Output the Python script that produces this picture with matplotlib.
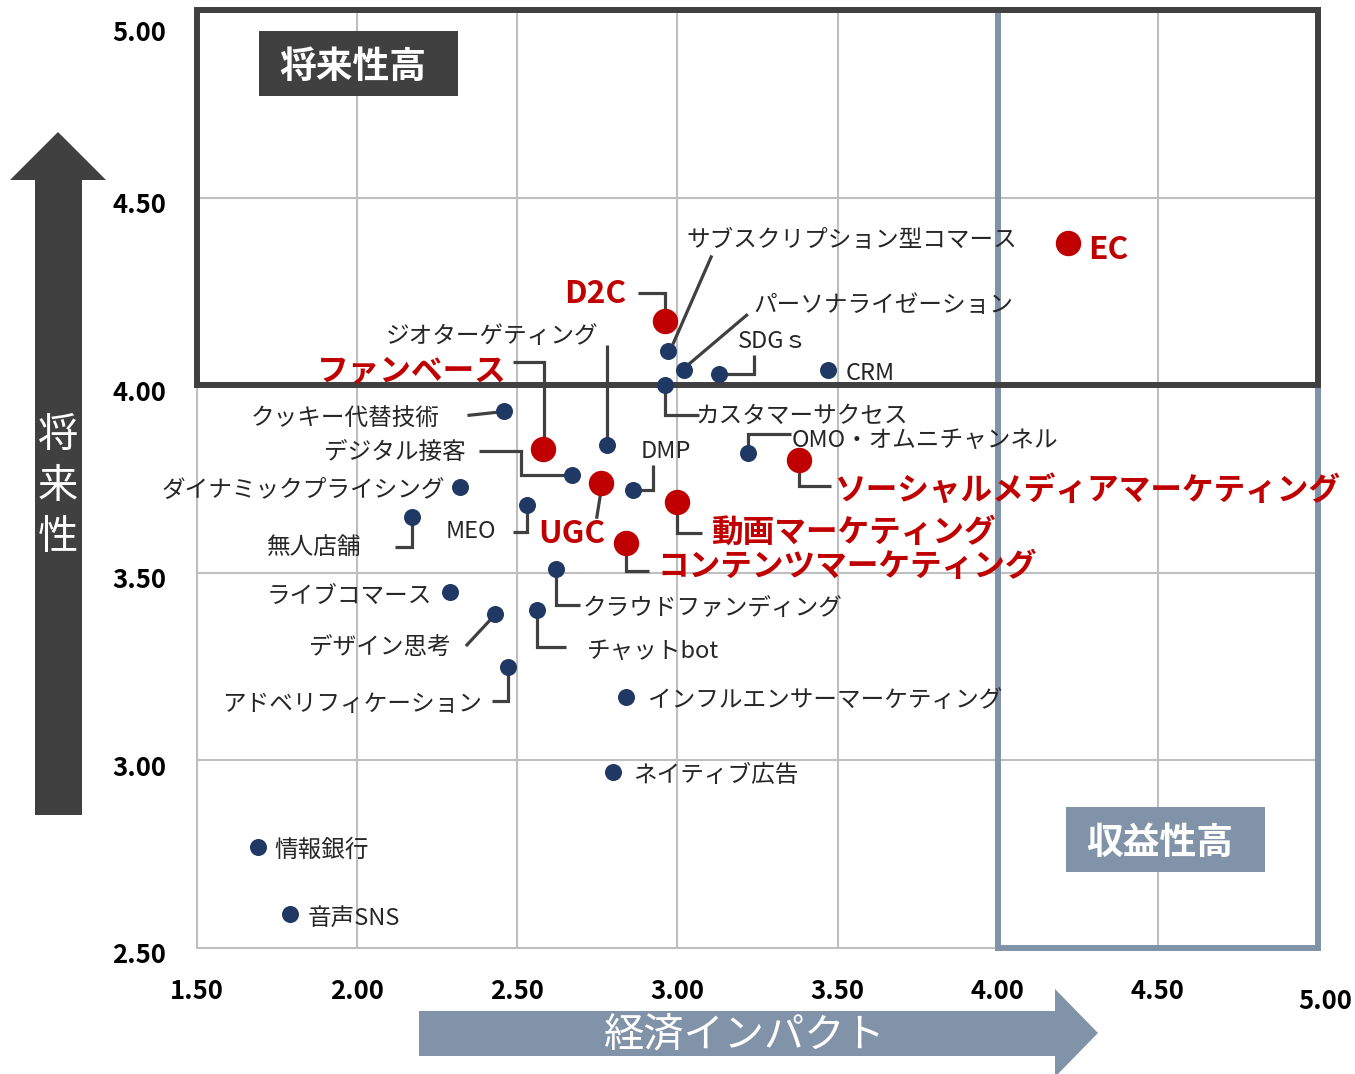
import matplotlib
matplotlib.use('Agg')
import matplotlib.pyplot as plt
import matplotlib.transforms as mtransforms
from matplotlib.patches import Rectangle, Polygon
from matplotlib.lines import Line2D

plt.rcParams['font.family'] = ['Noto Sans CJK JP', 'DejaVu Sans']

# ---------------- data ----------------
names = ['EC', 'D2C', 'サブスクリプション型コマース', 'パーソナライゼーション', 'SDGｓ', 'CRM',
         'カスタマーサクセス', 'ファンベース', 'ジオターゲティング', 'クッキー代替技術', 'デジタル接客',
         'UGC', 'DMP', '動画マーケティング', 'コンテンツマーケティング',
         'ソーシャルメディアマーケティング', 'OMO・オムニチャンネル', 'ダイナミックプライシング',
         'MEO', '無人店舗', 'クラウドファンディング', 'ライブコマース', 'チャットbot', 'デザイン思考',
         'アドベリフィケーション', 'インフルエンサーマーケティング', 'ネイティブ広告', '情報銀行', '音声SNS']
econ_impact = [4.22, 2.96, 2.97, 3.02, 3.13, 3.47, 2.96, 2.58, 2.78, 2.46, 2.67, 2.76, 2.86, 3.00,
               2.84, 3.38, 3.22, 2.32, 2.53, 2.17, 2.62, 2.29, 2.56, 2.43, 2.47, 2.84, 2.80, 1.69, 1.79]
future_score = [4.38, 4.17, 4.09, 4.04, 4.03, 4.04, 4.00, 3.83, 3.84, 3.93, 3.76, 3.74, 3.72, 3.69,
                3.58, 3.80, 3.82, 3.73, 3.68, 3.65, 3.51, 3.45, 3.40, 3.39, 3.25, 3.17, 2.97, 2.77, 2.59]
focus = ['EC', 'D2C', 'ファンベース', 'UGC', '動画マーケティング', 'コンテンツマーケティング',
         'ソーシャルメディアマーケティング']

x_ticks = [1.5, 2.0, 2.5, 3.0, 3.5, 4.0, 4.5, 5.0]
x_tick_labels = ['1.50', '2.00', '2.50', '3.00', '3.50', '4.00', '4.50', '5.00']
y_ticks = [2.5, 3.0, 3.5, 4.0, 4.5, 5.0]
y_tick_labels = ['2.50', '3.00', '3.50', '4.00', '4.50', '5.00']

x_title = '経済インパクト'
y_title = '将来性'
quad_top = '将来性高'
quad_right = '収益性高'

# ---------------- layout (pixel offsets, y downward) ----------------
# name: (ha, dx, dy, leader vertices)
layout = {
    'EC': ('left', 20, 3, None),
    'D2C': ('right', -38, -31, [(-27, -28), (0, -28), (0, -10)]),
    'サブスクリプション型コマース': ('left', 19, -115, [(5, -7), (44, -96)]),
    'パーソナライゼーション': ('left', 70, -69, [(5, -6), (64, -56)]),
    'SDGｓ': ('left', 19, -36, [(0, 0), (35, 0), (35, -19)]),
    'CRM': ('left', 18, -1, None),
    'カスタマーサクセス': ('left', 31, 27, [(0, 0), (0, 30), (34, 30)]),
    'ファンベース': ('right', -36, -81, [(-30, -87), (1, -87), (1, 0)]),
    'ジオターゲティング': ('right', -9, -113, [(0, -100), (0, 0)]),
    'クッキー代替技術': ('right', -65, 3, [(-37, 4), (0, 0)]),
    'デジタル接客': ('right', -106, -27, [(-93, -24), (-51, -24), (-51, 0), (0, 0)]),
    'ダイナミックプライシング': ('right', -15, 0, None),
    '無人店舗': ('right', -50, 27, [(0, 0), (0, 30), (-17, 30)]),
    'MEO': ('right', -31, 22, [(0, 0), (0, 27), (-14, 27)]),
    'UGC': ('left', -62, 47, [(0, 11), (-4, 36)]),
    'DMP': ('left', 8, -43, [(0, 0), (20, 0), (20, -25)]),
    'OMO・オムニチャンネル': ('left', 44, -16, [(0, 0), (0, -19), (43, -19)]),
    'ソーシャルメディアマーケティング': ('left', 36, 26, [(0, 0), (0, 26), (32, 26)]),
    '動画マーケティング': ('left', 34, 27, [(0, 0), (0, 31), (25, 31)]),
    'コンテンツマーケティング': ('left', 31, 20, [(0, 0), (0, 28), (23, 28)]),
    'クラウドファンディング': ('left', 27, 35, [(0, 0), (0, 36), (24, 36)]),
    'ライブコマース': ('right', -18, 1, None),
    'チャットbot': ('left', 50, 37, [(0, 0), (0, 37), (29, 37)]),
    'デザイン思考': ('right', -44, 30, [(-29, 32), (-2, 3)]),
    'アドベリフィケーション': ('right', -26, 34, [(0, 0), (0, 34), (-16, 34)]),
    'インフルエンサーマーケティング': ('left', 22, 0, None),
    'ネイティブ広告': ('left', 20, 0, None),
    '情報銀行': ('left', 16, 0, None),
    '音声SNS': ('left', 18, 0, None),
}
TEXT_DY = 4  # compensate CJK layout-box centring

DARK = '#404040'
SLATE = '#8093A9'
NAVY = '#1F3864'
RED = '#C00000'
GRID = '#BFBFBF'

W, H = 1355, 1074
fig = plt.figure(figsize=(W / 100, H / 100), dpi=100)
ax = fig.add_axes([197 / W, 1 - 948 / H, (1318 - 197) / W, (948 - 10) / H])
ax.set_xlim(1.5, 5.0)
ax.set_ylim(2.5, 5.0)
ax.autoscale(False)
ax.set_xticks(x_ticks)
ax.set_yticks(y_ticks)
ax.tick_params(length=0, labelbottom=False, labelleft=False)
for s in ax.spines.values():
    s.set_visible(False)
ax.grid(True, color=GRID, lw=1.5, zorder=0)
ax.set_axisbelow(True)
for gl in ax.get_xgridlines() + ax.get_ygridlines():
    gl.set_clip_on(False)

# quadrant frames
ax.add_patch(Rectangle((4.0, 2.5), 1.0, 2.5, fill=False, ec=SLATE, lw=4.3, zorder=1.6, clip_on=False))
ax.add_patch(Rectangle((1.5, 4.0), 3.5, 1.0, fill=False, ec=DARK, lw=4.3, zorder=1.7, clip_on=False))

# tick labels
tick_font = dict(fontsize=18.5, fontweight='bold', color='black')
for v, lab in zip(y_ticks, y_tick_labels):
    dy = (20 if v == 5.0 else 4) + TEXT_DY
    ax.annotate(lab, xy=(1.5, v), xytext=(-31, -dy), textcoords='offset pixels',
                ha='right', va='center', annotation_clip=False, **tick_font)
for v, lab in zip(x_ticks, x_tick_labels):
    dy = (50 if v == 5.0 else 40) + TEXT_DY
    dx = 7 if v == 5.0 else 0
    ax.annotate(lab, xy=(v, 2.5), xytext=(dx, -dy), textcoords='offset pixels',
                ha='center', va='center', annotation_clip=False, **tick_font)

# leader lines
for n, x, y in zip(names, econ_impact, future_score):
    ha, dx, dy, lead = layout[n]
    if lead:
        tr = fig.dpi_scale_trans + mtransforms.ScaledTranslation(x, y, ax.transData)
        xs = [p[0] / 100 for p in lead]
        ys = [-p[1] / 100 for p in lead]
        ln = Line2D(xs, ys, color=DARK, lw=2.3, transform=tr, zorder=2,
                    solid_capstyle='butt', solid_joinstyle='miter', clip_on=False)
        ax.add_line(ln)

# points
is_focus = [n in focus for n in names]
ax.scatter([x for x, f in zip(econ_impact, is_focus) if not f],
           [y for y, f in zip(future_score, is_focus) if not f],
           s=150, color=NAVY, zorder=3, linewidths=0)
ax.scatter([x for x, f in zip(econ_impact, is_focus) if f],
           [y for y, f in zip(future_score, is_focus) if f],
           s=335, color=RED, zorder=3, linewidths=0)

# labels
for n, x, y, f in zip(names, econ_impact, future_score, is_focus):
    ha, dx, dy, lead = layout[n]
    if f:
        kw = dict(fontsize=22.8, fontweight='bold', color=RED)
    else:
        kw = dict(fontsize=17, color='#262626')
    ax.annotate(n, xy=(x, y), xytext=(dx, -(dy + TEXT_DY)), textcoords='offset pixels',
                ha=ha, va='center', zorder=4, annotation_clip=False, **kw)

# ---------------- decorations in figure pixel coords ----------------
pix = mtransforms.Affine2D().scale(1 / W, -1 / H).translate(0, 1) + fig.transFigure

# vertical arrow
fig.patches.append(Polygon([(35, 815), (35, 180), (10, 180), (58, 132), (106, 180),
                            (82, 180), (82, 815)], closed=True, fc=DARK, ec='none',
                           transform=pix, figure=fig))
for i, ch in enumerate(y_title):
    fig.text(58, 432 + TEXT_DY + 50.5 * i, ch, transform=pix, ha='center', va='center',
             fontsize=29, color='white')

# horizontal arrow
fig.patches.append(Polygon([(419, 1011), (1055, 1011), (1055, 989), (1098, 1033),
                            (1055, 1077), (1055, 1056), (419, 1056)], closed=True,
                           fc=SLATE, ec='none', transform=pix, figure=fig))
fig.text(745, 1031 + TEXT_DY, x_title, transform=pix, ha='center', va='center',
         fontsize=29, color='white')

# quadrant labels
fig.patches.append(Rectangle((259, 31), 199, 65, fc=DARK, ec='none', transform=pix,
                             figure=fig, zorder=5))
fig.text(353, 63 + TEXT_DY, quad_top, transform=pix, ha='center', va='center',
         fontsize=26.5, fontweight='bold', color='white', zorder=6)
fig.patches.append(Rectangle((1066, 807), 199, 65, fc=SLATE, ec='none', transform=pix,
                             figure=fig, zorder=5))
fig.text(1160, 839 + TEXT_DY, quad_right, transform=pix, ha='center', va='center',
         fontsize=26.5, fontweight='bold', color='white', zorder=6)

fig.savefig('out.png', dpi=100)
